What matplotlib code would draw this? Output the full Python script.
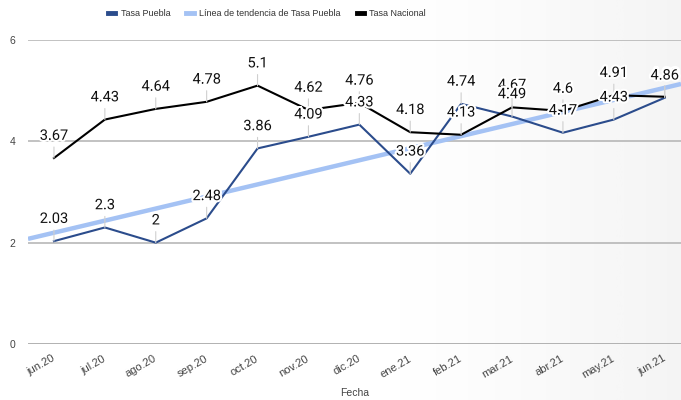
import numpy as np
import matplotlib
import matplotlib.pyplot as plt
import matplotlib.patheffects as pe
import matplotlib.transforms as mtransforms
from matplotlib.lines import Line2D

matplotlib.rcParams["font.family"] = ["Roboto", "DejaVu Sans"]

# datos
meses = ["jun.20", "jul.20", "ago.20", "sep.20", "oct.20", "nov.20", "dic.20",
         "ene.21", "feb.21", "mar.21", "abr.21", "may.21", "jun.21"]
tasa_puebla = [2.03, 2.3, 2, 2.48, 3.86, 4.09, 4.33, 3.36, 4.74, 4.49, 4.17, 4.43, 4.86]
tasa_nacional = [3.67, 4.43, 4.64, 4.78, 5.1, 4.62, 4.76, 4.18, 4.13, 4.67, 4.6, 4.91, 4.88]

x = np.arange(len(meses))
arial = ["Liberation Sans", "DejaVu Sans"]

fig = plt.figure(figsize=(6.81, 4.0), dpi=100)

# fondo con degradado suave a la derecha
bg = fig.add_axes([0, 0, 1, 1], zorder=-10)
grad = np.linspace(0, 1, 256)
grad = np.clip((grad - 0.55) / 0.45, 0, 1) ** 1.3
bg.imshow(grad[None, :], aspect="auto", cmap="Greys", vmin=0, vmax=11,
          extent=(0, 1, 0, 1))
bg.set_axis_off()

ax = fig.add_axes([28 / 681, 1 - 344 / 400, 1 - 28 / 681, (344 - 40) / 400])
ax.set_facecolor("none")

# linea de tendencia (regresion lineal sobre Tasa Puebla)
m, b = np.polyfit(x, tasa_puebla, 1)
xlim = (-0.51, 12.32)
xt = np.array(xlim)
ax.plot(xt, m * xt + b, color="#a4c2f4", lw=3.2, solid_capstyle="butt", zorder=2)

ax.plot(x, tasa_puebla, color="#2b4c8c", lw=1.5, zorder=3)
ax.plot(x, tasa_nacional, color="#000000", lw=1.5, zorder=3)

# etiquetas de datos
for serie in (tasa_nacional, tasa_puebla):
    for i, v in zip(x, serie):
        ax.annotate(f"{v:g}", xy=(i, v), xytext=(0, 16), textcoords="offset points",
                    ha="center", va="center", fontsize=10.5, color="#111111", zorder=5,
                    path_effects=[pe.withStroke(linewidth=3, foreground="white")],
                    arrowprops=dict(arrowstyle="-", color="#cfcfcf", lw=0.8,
                                    shrinkA=1, shrinkB=0))

ax.set_xlim(*xlim)
ax.set_ylim(0, 6)
ax.set_yticks([0, 2, 4, 6])
ax.set_yticklabels(["0", "2", "4", "6"], family=arial)
ax.set_xticks(x)
ax.set_xticklabels(meses, rotation=30, ha="right", va="center",
                   rotation_mode="anchor", family=arial)
shift = mtransforms.ScaledTranslation(6 / 100, 0, fig.dpi_scale_trans)
for lbl in ax.get_xticklabels():
    lbl.set_transform(lbl.get_transform() + shift)
ax.tick_params(axis="y", length=0, labelsize=7.5, labelcolor="#444444", pad=9)
ax.tick_params(axis="x", length=0, labelsize=8, labelcolor="#444444", pad=10)
ax.grid(axis="y", color="#b7b7b7", lw=1.2, zorder=0)
ax.axhline(0, color="#888888", lw=1.8, zorder=1)
for s in ax.spines.values():
    s.set_visible(False)
ax.set_xlabel("Fecha", fontsize=7.5, color="#444444", labelpad=6, family=arial)

handles = [Line2D([], [], color="#2b4c8c", lw=3.5),
           Line2D([], [], color="#a4c2f4", lw=3.5),
           Line2D([], [], color="#000000", lw=3.5)]
fig.legend(handles, ["Tasa Puebla", "Línea de tendencia de Tasa Puebla", "Tasa Nacional"],
           loc="center", bbox_to_anchor=(267 / 681, 1 - 14 / 400), ncol=3, frameon=False,
           prop={"family": arial, "size": 6.5}, labelcolor="#333333",
           handlelength=0.8, handletextpad=0.6, columnspacing=1.8)

fig.savefig("out.png", dpi=100, facecolor="white")
